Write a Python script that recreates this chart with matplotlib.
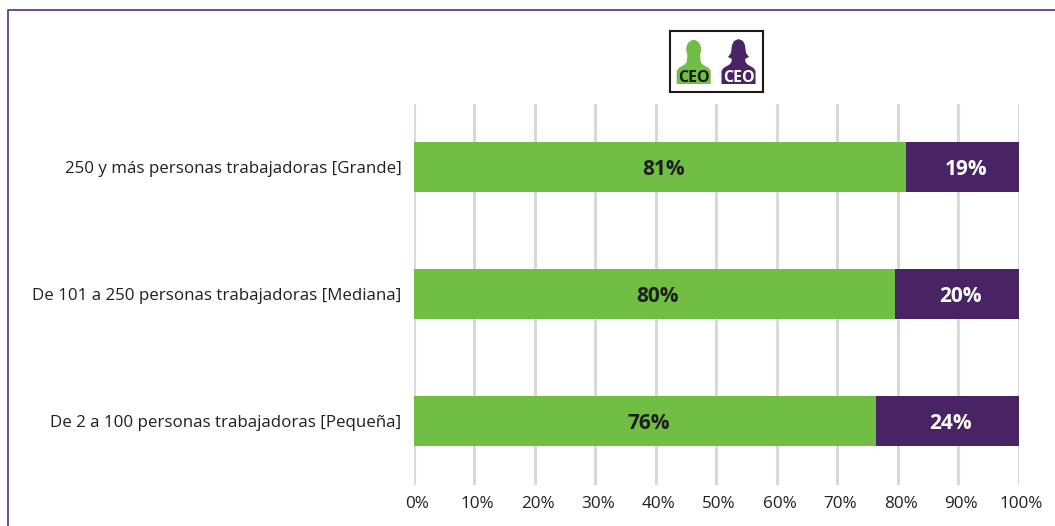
import matplotlib
matplotlib.use("Agg")
import matplotlib.pyplot as plt
from matplotlib.patches import Ellipse, Polygon, Rectangle
from matplotlib.transforms import ScaledTranslation

plt.rcParams['font.family'] = ['Open Sans', 'DejaVu Sans']

categories = ["De 2 a 100 personas trabajadoras [Pequeña]",
              "De 101 a 250 personas trabajadoras [Mediana]",
              "250 y más personas trabajadoras [Grande]"]
hombres = [76.4, 79.6, 81.4]
mujeres = [23.6, 20.4, 18.6]
hombres_txt = ["76%", "80%", "81%"]
mujeres_txt = ["24%", "20%", "19%"]
ticks = [0, 10, 20, 30, 40, 50, 60, 70, 80, 90, 100]
tick_labels = ["0%", "10%", "20%", "30%", "40%", "50%", "60%", "70%", "80%", "90%", "100%"]

VERDE = "#70bf44"
MORADO = "#482464"
W, H = 1055, 526

fig = plt.figure(figsize=(W / 100, H / 100), dpi=100, facecolor="white")
ax = fig.add_axes([413.8 / W, 1 - 484.5 / H, 604.7 / W, 381 / H])

# bars
ax.barh(categories, hombres, height=0.4, color=VERDE, zorder=3)
ax.barh(categories, mujeres, left=hombres, height=0.4, color=MORADO, zorder=3)
# the value labels sit a little right of and below the bar centres
desplazado = ax.transData + ScaledTranslation(3.5 / 100, -2.5 / 100, fig.dpi_scale_trans)
for i in range(len(categories)):
    ax.text(hombres[i] / 2, i, hombres_txt[i], ha="center", va="center", transform=desplazado,
            fontsize=15, fontweight="bold", color="#1f1f1f", zorder=4)
    ax.text(hombres[i] + mujeres[i] / 2, i, mujeres_txt[i], ha="center", va="center", transform=desplazado,
            fontsize=15, fontweight="bold", color="white", zorder=4)

ax.set_xlim(0, 100)
ax.set_ylim(-0.5, 2.5)
ax.set_xticks(ticks)
ax.set_xticklabels(tick_labels, fontsize=12.3, color="#231f20")
ax.grid(axis="x", color="#d9d9d9", linewidth=2.2, zorder=0)
ax.set_axisbelow(True)
ax.tick_params(axis="x", length=0, pad=8)
ax.tick_params(axis="y", length=0, pad=9, labelsize=12.2, labelcolor="#231f20")
for s in ax.spines.values():
    s.set_visible(False)
for lab in ax.get_xticklabels():
    lab.set_transform(lab.get_transform() + ScaledTranslation(3 / 100, 0, fig.dpi_scale_trans))
    lab.set_clip_on(False)

# overlay in pixel coordinates: frame line and CEO icons
over = fig.add_axes([0, 0, 1, 1], facecolor="none")
over.set_xlim(0, W)
over.set_ylim(H, 0)
over.axis("off")
over.plot([1055, 8, 8], [9.5, 9.5, 526], color="#5f3f85", linewidth=1.3)
over.add_patch(Rectangle((670, 31), 93, 61, fc="white", ec="#1a1a1a", lw=1.5))


def persona(cx, color):
    # body with neck
    over.add_patch(Polygon([(cx - 17, 84), (cx - 17, 71), (cx - 15, 68), (cx - 9, 64.5), (cx - 7, 62),
                            (cx - 6, 52), (cx + 6, 52), (cx + 7, 62), (cx + 9, 64.5), (cx + 15, 68),
                            (cx + 17, 71), (cx + 17, 84)],
                           closed=True, fc=color, ec="none"))


persona(693.7, VERDE)
over.add_patch(Ellipse((693.7, 49.5), 15, 19, fc=VERDE, ec="none"))
persona(738.5, MORADO)
over.add_patch(Polygon([(728, 57), (731, 53), (732, 45), (734, 41), (738.5, 39), (743, 41), (745, 45),
                        (746, 53), (749, 57), (745, 59), (732, 59)],
                       closed=True, fc=MORADO, ec="none"))
over.text(693.7, 77.5, "CEO", ha="center", va="center", fontsize=11.5, fontweight="bold", color="#1a1a1a")
over.text(738.5, 77.5, "CEO", ha="center", va="center", fontsize=11.5, fontweight="bold", color="white")

fig.savefig("out.png", dpi=100)
